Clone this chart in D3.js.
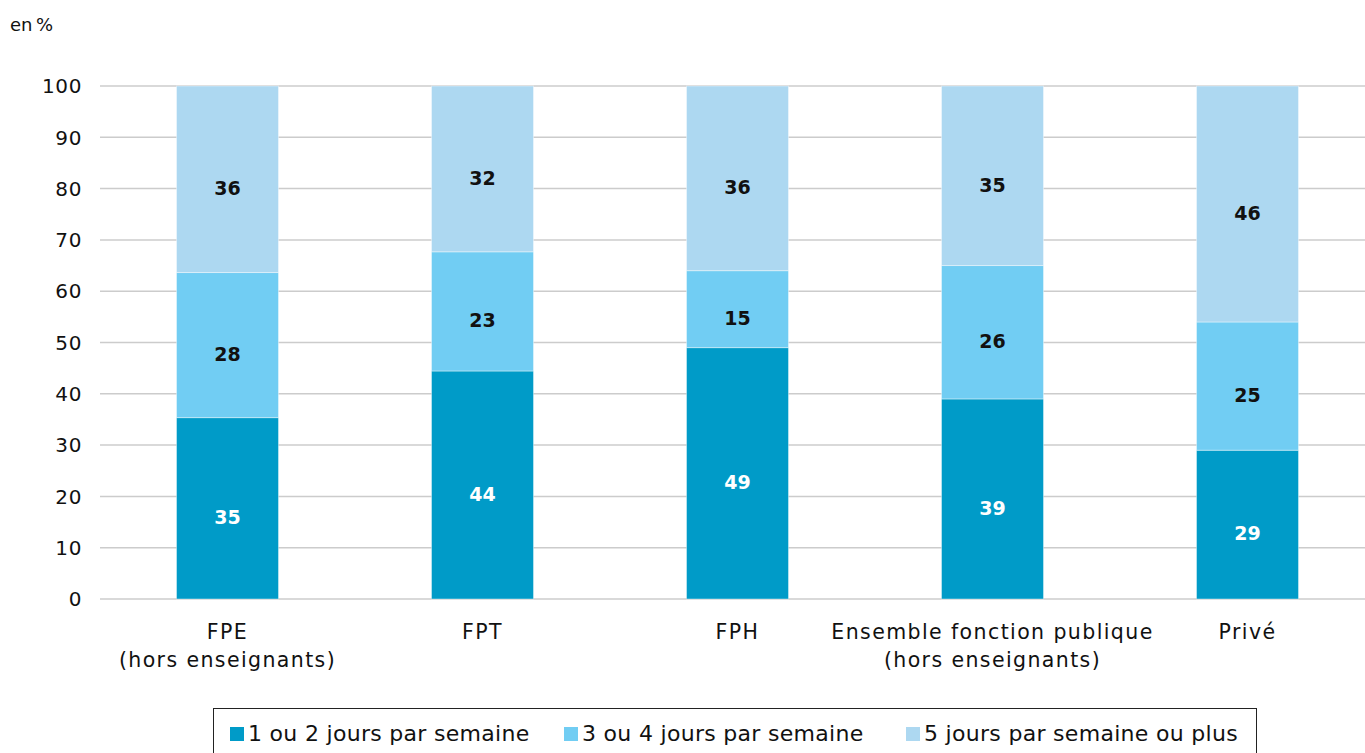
<!DOCTYPE html>
<html>
<head>
<meta charset="utf-8">
<script src="https://cdn.jsdelivr.net/npm/d3@7"></script>
<style>
  body { margin: 0; background: #fff; }
  #viz_container { width: 1365px; height: 753px; }
  text { font-family: "DejaVu Sans", "Open Sans", sans-serif; }
</style>
</head>
<body>
<div id="viz_container"></div>
<script>
// Data
const categories = ["FPE|(hors enseignants)", "FPT", "FPH", "Ensemble fonction publique|(hors enseignants)", "Privé"];
const seriesNames = ["1 ou 2 jours par semaine", "3 ou 4 jours par semaine", "5 jours par semaine ou plus"];
const days12 = [35, 44, 49, 39, 29];
const days34 = [28, 23, 15, 26, 25];
const days5plus = [36, 32, 36, 35, 46];
const yTicks = [0, 10, 20, 30, 40, 50, 60, 70, 80, 90, 100];
const colors = ["#009bc8", "#71cdf3", "#add8f1"];
const labelColors = ["#ffffff", "#111111", "#111111"];

const width = 1365;
const height = 753;

const svg = d3
  .select("#viz_container")
  .append("svg")
  .attr("width", width)
  .attr("height", height);

const x = d3
  .scaleBand()
  .domain(categories)
  .range([100, 1375])
  .paddingInner(0.6)
  .paddingOuter(0.3);

const y = d3
  .scaleLinear()
  .domain([0, 100])
  .range([599, 86]);

// build stacked table (normalised to 100, like the source)
const table = categories.map((c, i) => ({
  cat: c,
  s0: days12[i],
  s1: days34[i],
  s2: days5plus[i]
}));
const stack = d3.stack().keys(["s0", "s1", "s2"]).offset(d3.stackOffsetExpand);
const layers = stack(table);

// gridlines
svg
  .append("g")
  .selectAll("line")
  .data(yTicks)
  .enter()
  .append("line")
  .attr("x1", 100)
  .attr("x2", width)
  .attr("y1", (d) => y(d))
  .attr("y2", (d) => y(d))
  .attr("stroke", "#cccccc")
  .attr("stroke-width", 1.5);

// y labels
svg
  .append("g")
  .selectAll("text")
  .data(yTicks)
  .enter()
  .append("text")
  .attr("x", 82)
  .attr("y", (d) => y(d))
  .attr("dy", "0.36em")
  .attr("text-anchor", "end")
  .style("font-size", "20px")
  .style("letter-spacing", "0.6px")
  .attr("fill", "#111")
  .text((d) => d);

svg
  .append("text")
  .attr("x", 10)
  .attr("y", 31)
  .style("font-size", "18px")
  .attr("fill", "#111")
  .text("en\u2009%");

// bars
const layerG = svg
  .append("g")
  .selectAll("g")
  .data(layers)
  .enter()
  .append("g")
  .attr("fill", (d, i) => colors[i]);

layerG
  .selectAll("rect")
  .data((d) => d)
  .enter()
  .append("rect")
  .attr("x", (d) => x(d.data.cat))
  .attr("width", x.bandwidth())
  .attr("y", (d) => y(d[1] * 100))
  .attr("height", (d) => y(d[0] * 100) - y(d[1] * 100))
  .attr("stroke", "#ffffff")
  .attr("stroke-opacity", 0.4)
  .attr("stroke-width", 1);

// value labels
layers.forEach((layer, li) => {
  svg
    .append("g")
    .selectAll("text")
    .data(layer)
    .enter()
    .append("text")
    .attr("x", (d) => x(d.data.cat) + x.bandwidth() / 2)
    .attr("y", (d) => (y(d[0] * 100) + y(d[1] * 100)) / 2 + 9)
    .attr("dy", "0.36em")
    .attr("text-anchor", "middle")
    .style("font-size", "19px")
    .style("font-weight", "bold")
    .attr("fill", labelColors[li])
    .text((d) => d.data[layer.key]);
});

// category labels
const catG = svg
  .append("g")
  .selectAll("text")
  .data(categories)
  .enter()
  .append("text")
  .attr("x", (d) => x(d) + x.bandwidth() / 2)
  .attr("y", 632)
  .attr("text-anchor", "middle")
  .style("font-size", "20.5px")
  .style("letter-spacing", "1.4px")
  .attr("fill", "#111");

catG
  .selectAll("tspan")
  .data((d) => d.split("|"))
  .enter()
  .append("tspan")
  .attr("x", function () {
    return d3.select(this.parentNode).attr("x");
  })
  .attr("dy", (d, i) => (i === 0 ? "0.36em" : "1.35em"))
  .text((d) => d);

// legend
const legend = svg.append("g");
legend
  .append("rect")
  .attr("x", 213.5)
  .attr("y", 708.5)
  .attr("width", 1043)
  .attr("height", 60)
  .attr("fill", "#fff")
  .attr("stroke", "#222")
  .attr("stroke-width", 1);

const legendX = [230, 564, 906];
seriesNames.forEach((name, i) => {
  legend
    .append("rect")
    .attr("x", legendX[i])
    .attr("y", 727)
    .attr("width", 14)
    .attr("height", 14)
    .attr("fill", colors[i]);
  legend
    .append("text")
    .attr("x", legendX[i] + 18)
    .attr("y", 741)
    .style("font-size", "22px")
    .style("letter-spacing", "0.3px")
    .attr("fill", "#111")
    .text(name);
});
</script>
</body>
</html>
